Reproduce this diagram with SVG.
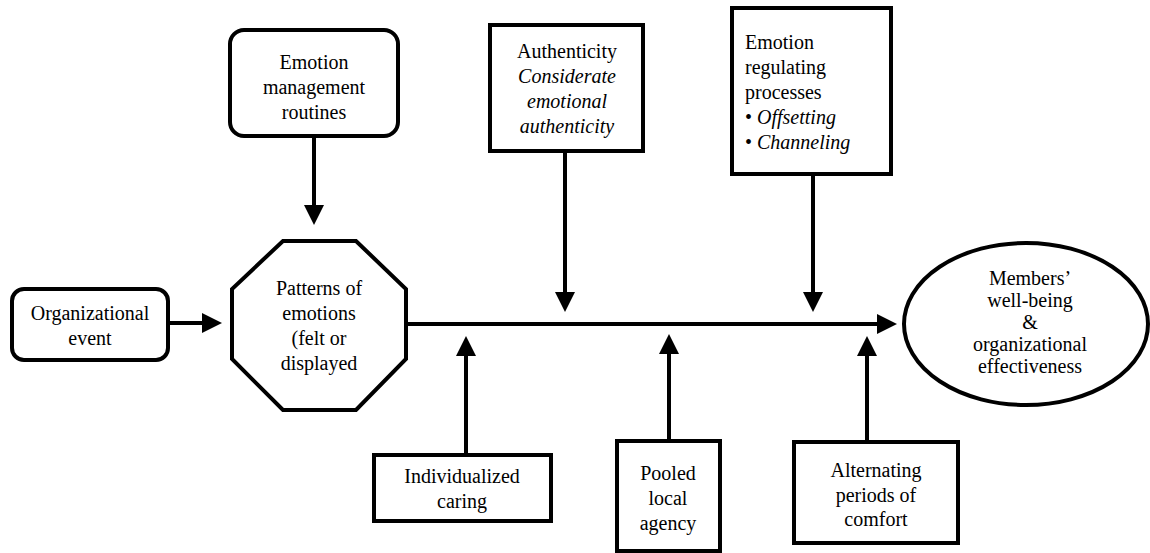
<svg xmlns="http://www.w3.org/2000/svg" width="1150" height="553" viewBox="0 0 1150 553" font-family="Liberation Serif, Times New Roman, serif" font-size="20">
<style>
.box{fill:#fff;stroke:#000;stroke-width:4}
.t{fill:#000}
.c{text-anchor:middle}
.i{font-style:italic}
.ln{stroke:#000;stroke-width:4;fill:none;marker-end:url(#ah)}
</style>
<defs>
<marker id="ah" markerUnits="userSpaceOnUse" viewBox="0 0 20 20" refX="2" refY="10" markerWidth="20" markerHeight="20" orient="auto">
<path d="M0,0 L20,10 L0,20 z" fill="#000"/>
</marker>
</defs>
<rect width="1150" height="553" fill="#fff"/>
<g id="connectors">
<line class="ln" x1="314" y1="138" x2="314" y2="207"/>
<line class="ln" x1="170" y1="323" x2="204" y2="323"/>
<line class="ln" x1="406" y1="324" x2="879" y2="324"/>
<line class="ln" x1="565" y1="153" x2="565" y2="294"/>
<line class="ln" x1="813" y1="176" x2="813" y2="294"/>
<line class="ln" x1="466" y1="453" x2="466" y2="354"/>
<line class="ln" x1="669" y1="439" x2="669" y2="352"/>
<line class="ln" x1="867" y1="440" x2="867" y2="354"/>
</g>
<g id="emotion-management">
<rect class="box" x="230" y="30" width="168" height="106" rx="14"/>
<text class="t c" x="314" y="69">Emotion</text>
<text class="t c" x="314" y="94">management</text>
<text class="t c" x="314" y="119">routines</text>
</g>
<g id="organizational-event">
<rect class="box" x="12" y="289" width="156" height="71" rx="12"/>
<text class="t c" x="90" y="320">Organizational</text>
<text class="t c" x="90" y="345">event</text>
</g>
<g id="patterns">
<polygon class="box" points="283,241 356,241 406,289 406,359 356,410 283,410 232,359 232,289"/>
<text class="t c" x="319" y="295">Patterns of</text>
<text class="t c" x="319" y="320">emotions</text>
<text class="t c" x="319" y="345">(felt or</text>
<text class="t c" x="319" y="370">displayed</text>
</g>
<g id="authenticity">
<rect class="box" x="490" y="25" width="153" height="126"/>
<text class="t c" x="567" y="58">Authenticity</text>
<text class="t c i" x="567" y="83">Considerate</text>
<text class="t c i" x="567" y="108">emotional</text>
<text class="t c i" x="567" y="133">authenticity</text>
</g>
<g id="emotion-regulating">
<rect class="box" x="732" y="8" width="159" height="166"/>
<text class="t" x="745" y="49">Emotion</text>
<text class="t" x="745" y="74">regulating</text>
<text class="t" x="745" y="99">processes</text>
<text class="t" x="745" y="124">• <tspan class="i">Offsetting</tspan></text>
<text class="t" x="745" y="149">• <tspan class="i">Channeling</tspan></text>
</g>
<g id="outcome">
<ellipse class="box" cx="1026" cy="324" rx="122" ry="81"/>
<text class="t c" x="1030" y="285">Members’</text>
<text class="t c" x="1030" y="307">well-being</text>
<text class="t c" x="1030" y="329">&amp;</text>
<text class="t c" x="1030" y="351">organizational</text>
<text class="t c" x="1030" y="373">effectiveness</text>
</g>
<g id="individualized-caring">
<rect class="box" x="374" y="455" width="177" height="66"/>
<text class="t c" x="462" y="483">Individualized</text>
<text class="t c" x="462" y="508">caring</text>
</g>
<g id="pooled-local-agency">
<rect class="box" x="617" y="441" width="103" height="110"/>
<text class="t c" x="668" y="480">Pooled</text>
<text class="t c" x="668" y="505">local</text>
<text class="t c" x="668" y="530">agency</text>
</g>
<g id="alternating-periods">
<rect class="box" x="794" y="442" width="164" height="101"/>
<text class="t c" x="876" y="477">Alternating</text>
<text class="t c" x="876" y="502">periods of</text>
<text class="t c" x="876" y="526">comfort</text>
</g>
</svg>
